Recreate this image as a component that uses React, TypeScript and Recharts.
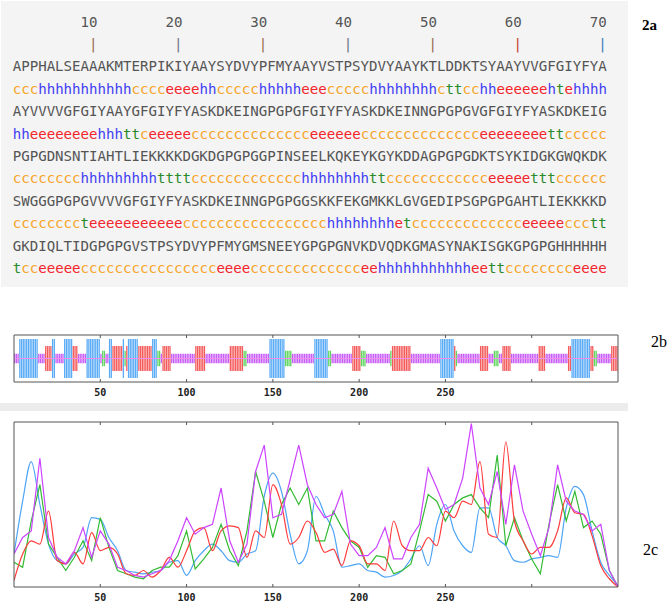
import React from "react";
import {
  BarChart, Bar, Cell, LineChart, Line, XAxis, YAxis, ReferenceLine,
} from "recharts";

// 2a: sequence rows (70 residues each) and predicted secondary structure
const RULER = [10, 20, 30, 40, 50, 60, 70];
const RULER_COLORS = ["#9a6a4c", "#6d7488", "#9a6a4c", "#6d7488", "#9a6a4c", "#c23a30", "#3a7cbf"];

const SEQ_ROWS = [
  "APPHALSEAAAKMTERPIKIYAAYSYDVYPFMYAAYVSTPSYDVYAAYKTLDDKTSYAAYVVGFGIYFYA",
  "AYVVVVGFGIYAAYGFGIYFYASKDKEINGPGPGFGIYFYASKDKEINNGPGPGVGFGIYFYASKDKEIG",
  "PGPGDNSNTIAHTLIEKKKKDGKDGPGPGGPINSEELKQKEYKGYKDDAGPGPGDKTSYKIDGKGWQKDK",
  "SWGGGPGPGVVVVGFGIYFYASKDKEINNGPGPGGSKKFEKGMKKLGVGEDIPSGPGPGAHTLIEKKKKD",
  "GKDIQLTIDGPGPGVSTPSYDVYPFMYGMSNEEYGPGPGNVKDVQDKGMASYNAKISGKGPGPGHHHHHH",
];

// runs separated by spaces only for readability
const SS_ROWS = [
  "ccc hhhhhhhhhhh cccc eeee hh ccccc hhhhh eee ccccc hhhhhhhh c tt cc hh eeeeee h t e hhhh",
  "hh eeeeeeee hhh tt c eeeee cccccccccccccc eeeeee cccccccccccccc eeeeeeee tt ccccc",
  "cccccccc hhhhhhhhh tttt ccccccccccccc hhhhhhhh tt cccccccccccc eeeee ttt cccccc",
  "cccccccc t eeeeeeeeeee ccccccccccccccccc hhhhhhhh e t ccccccccccccc eeeee ccc tt",
  "t cc eeeee cccccccccccccccc eeee ccccccccccccc ee hhhhhhhhhhh ee tt cccccccc eeee",
].map((r) => r.replace(/ /g, ""));

// 2b / 2c axis
const AXIS_TICKS = [50, 100, 150, 200, 250, 300];
const LABELED_TICKS = [50, 100, 150, 200, 250];

// 2c: four profiles, read every 5 residues
const RESIDUES = [
  0, 5, 10, 15, 20, 25, 30, 35, 40, 45, 50, 55, 60, 65, 70, 75, 80, 85, 90, 95,
  100, 105, 110, 115, 120, 125, 130, 135, 140, 145, 150, 155, 160, 165, 170, 175,
  180, 185, 190, 195, 200, 205, 210, 215, 220, 225, 230, 235, 240, 245, 250, 255,
  260, 265, 270, 275, 280, 285, 290, 295, 300, 305, 310, 315, 320, 325, 330, 335,
  340, 345, 350,
];
const BLUE = [
  20, 52, 76, 50, 26, 16, 14, 20, 24, 42, 41, 30, 22, 10, 9, 8, 9, 10, 15, 16,
  7, 16, 22, 26, 22, 16, 15, 20, 22, 55, 69, 58, 32, 14, 22, 55, 44, 34, 12, 13,
  14, 10, 9, 6, 7, 10, 17, 25, 13, 38, 50, 34, 25, 21, 48, 48, 30, 25, 16, 15,
  17, 18, 19, 18, 48, 61, 56, 34, 15, 7, 1,
];
const MAGENTA = [
  20, 30, 34, 78, 30, 18, 14, 22, 36, 18, 34, 26, 12, 10, 7, 6, 8, 10, 16, 28,
  42, 32, 36, 38, 60, 28, 15, 26, 70, 86, 42, 44, 65, 86, 62, 50, 42, 44, 58, 26,
  19, 19, 24, 36, 17, 17, 30, 38, 72, 60, 47, 50, 66, 99, 60, 50, 70, 38, 74, 46,
  32, 19, 36, 74, 52, 46, 44, 34, 38, 10, 0,
];
const GREEN = [
  15, 12, 40, 62, 26, 18, 10, 18, 28, 16, 42, 24, 10, 8, 6, 5, 10, 12, 12, 19,
  34, 11, 17, 24, 38, 22, 13, 34, 70, 52, 30, 50, 60, 50, 60, 28, 28, 46, 36, 28,
  24, 12, 19, 18, 8, 10, 14, 34, 56, 52, 40, 50, 54, 56, 48, 42, 80, 25, 42, 28,
  17, 8, 38, 62, 40, 58, 36, 40, 32, 10, 0,
];
const RED = [
  4, 20, 28, 26, 46, 16, 14, 21, 14, 33, 22, 24, 20, 8, 7, 10, 6, 10, 18, 12,
  22, 34, 36, 22, 34, 37, 36, 18, 34, 30, 62, 50, 26, 30, 40, 33, 21, 23, 13, 28,
  25, 14, 14, 10, 40, 25, 22, 22, 30, 25, 46, 42, 52, 50, 76, 32, 30, 88, 40, 28,
  20, 24, 24, 34, 54, 45, 44, 31, 13, 5, 0,
];

const SS_TEXT_COLOR: Record<string, string> = { c: "#f7a52a", h: "#3f3cf2", e: "#f2262c", t: "#2a8a2a" };
const SS_BAR_COLOR: Record<string, string> = { h: "#5aabf6", e: "#f45b5b", t: "#5fd75f", c: "#c75cf6" };
const SS_HALF: Record<string, number> = { h: 0.83, e: 0.53, t: 0.33, c: 0.2 };

const ssData = SS_ROWS.join("").split("").map((s, i) => ({
  x: i + 0.5,
  span: [-SS_HALF[s], SS_HALF[s]],
  s,
}));

const profileData = RESIDUES.map((x, i) => ({
  x, blue: BLUE[i], magenta: MAGENTA[i], green: GREEN[i], red: RED[i],
}));

const tickStyle = { fontFamily: "DejaVu Sans Mono", fontSize: 10, fontWeight: "bold", fill: "#222" };

function frame(yDomain: number[]) {
  return [
    <XAxis key="xb" xAxisId="b" dataKey="x" type="number" domain={[0, 350]} allowDataOverflow
      ticks={AXIS_TICKS} interval={0}
      tickFormatter={(v) => (LABELED_TICKS.includes(v) ? String(v) : "")}
      tickSize={-3} tickMargin={10} height={20} stroke="#555" tick={tickStyle} />,
    <XAxis key="xt" xAxisId="t" orientation="top" dataKey="x" type="number" domain={[0, 350]}
      allowDataOverflow ticks={AXIS_TICKS} interval={0} tickFormatter={() => ""}
      tickSize={-3} height={1} stroke="#555" />,
    <YAxis key="yl" yAxisId="l" domain={yDomain} allowDataOverflow width={1}
      tick={false} tickLine={false} stroke="#555" />,
    <YAxis key="yr" yAxisId="r" orientation="right" domain={yDomain} allowDataOverflow width={1}
      tick={false} tickLine={false} stroke="#555" />,
  ];
}

function SsRuns({ text }: { text: string }) {
  const runs: string[] = [];
  for (const ch of text) {
    if (runs.length && runs[runs.length - 1][0] === ch) runs[runs.length - 1] += ch;
    else runs.push(ch);
  }
  return <>{runs.map((r, i) => <span key={i} style={{ color: SS_TEXT_COLOR[r[0]] }}>{r}</span>)}</>;
}

const label = (size: number, bold = false): React.CSSProperties => ({
  position: "absolute", fontFamily: "Liberation Serif", fontSize: size,
  fontWeight: bold ? "bold" : "normal", lineHeight: `${size}px`, color: "#000",
});

export default function App() {
  return (
    <div style={{ position: "absolute", left: 0, top: 0, width: 669, height: 603, background: "#fff", overflow: "hidden" }}>
      {/* 2a */}
      <div style={{ position: "absolute", left: 1, top: 1, width: 627, height: 286, background: "#f4f4f4" }} />
      <div style={{
        position: "absolute", left: 12.7, top: 10.5, fontFamily: "DejaVu Sans Mono", fontSize: 14.1,
        lineHeight: "22.4px", whiteSpace: "pre", color: "#555",
      }}>
        <div>{RULER.map((n) => String(n).padStart(10)).join("")}</div>
        <div>{RULER.map((n, i) => (
          <span key={n}>{" ".repeat(9)}<span style={{ color: RULER_COLORS[i] }}>|</span></span>
        ))}</div>
        {SEQ_ROWS.map((seq, i) => (
          <React.Fragment key={i}>
            <div>{seq}</div>
            <div><SsRuns text={SS_ROWS[i]} /></div>
          </React.Fragment>
        ))}
      </div>
      <div style={{ ...label(15, true), left: 642, top: 18 }}>2a</div>

      {/* 2b */}
      <div style={{ position: "absolute", left: 0, top: 320 }}>
        <BarChart width={640} height={90} data={ssData} margin={{ top: 14, right: 21, bottom: 8, left: 13 }}>
          {frame([-1, 1])}
          <Bar xAxisId="b" yAxisId="l" dataKey="span" barSize={1.3} isAnimationActive={false}>
            {ssData.map((d, i) => <Cell key={i} fill={SS_BAR_COLOR[d.s]} />)}
          </Bar>
          <ReferenceLine xAxisId="b" yAxisId="l" y={0} stroke="#f08cf0" strokeWidth={1} />
        </BarChart>
      </div>
      <div style={{ ...label(16), left: 651, top: 334 }}>2b</div>

      <div style={{ position: "absolute", left: 0, top: 403, width: 628, height: 8, background: "#ececec" }} />

      {/* 2c */}
      <div style={{ position: "absolute", left: 0, top: 410 }}>
        <LineChart width={640} height={200} data={profileData} margin={{ top: 11, right: 21, bottom: 3, left: 13 }}>
          {frame([0, 100])}
          <Line xAxisId="b" yAxisId="l" dataKey="blue" type="monotone" stroke="#4ea4f6" strokeWidth={1.2} dot={false} isAnimationActive={false} />
          <Line xAxisId="b" yAxisId="l" dataKey="green" type="linear" stroke="#33bb33" strokeWidth={1.2} dot={false} isAnimationActive={false} />
          <Line xAxisId="b" yAxisId="l" dataKey="red" type="monotone" stroke="#ff3b3b" strokeWidth={1.2} dot={false} isAnimationActive={false} />
          <Line xAxisId="b" yAxisId="l" dataKey="magenta" type="linear" stroke="#cc44ff" strokeWidth={1.2} dot={false} isAnimationActive={false} />
        </LineChart>
      </div>
      <div style={{ ...label(16), left: 643, top: 542 }}>2c</div>
    </div>
  );
}
